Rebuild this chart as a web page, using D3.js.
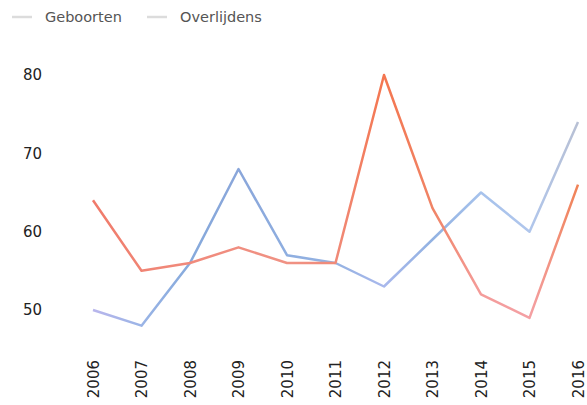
<!DOCTYPE html>
<html>
<head>
<meta charset="utf-8">
<script src="https://cdn.jsdelivr.net/npm/d3@7"></script>
<style>
  body { margin: 0; background: #fff; }
  text { font-family: "DejaVu Sans", "Liberation Sans", Arial, sans-serif; }
</style>
</head>
<body>
<svg id="chart"></svg>
<script>
const years = ['2006', '2007', '2008', '2009', '2010', '2011', '2012', '2013', '2014', '2015', '2016'];
const geboorten = [50, 48, 56, 68, 57, 56, 53, 59, 65, 60, 74];
const overlijdens = [64, 55, 56, 58, 56, 56, 80, 63, 52, 49, 66];
const yTicks = [50, 60, 70, 80];
const seriesNames = ['Geboorten', 'Overlijdens'];

// colour stops along each line (one per year)
const blueStops = ['#b9b6ec', '#9ab4e6', '#86aadc', '#8aa6da', '#8eaee0', '#94b2e2', '#a9b8ec', '#92b2e2', '#a6c2ec', '#b0c6ec', '#b8c0d4'];
const redStops = ['#f07a6a', '#f08474', '#f08a7c', '#f08e80', '#f09284', '#f08a78', '#f47650', '#f08466', '#f49c9a', '#f4a0a4', '#f08256'];

const width = 587, height = 405;
const margin = { top: 75, right: 9, bottom: 95, left: 93 };

const svg = d3.select('#chart')
  .attr('width', width)
  .attr('height', height);

const x = d3.scalePoint()
  .domain(years)
  .range([margin.left, width - margin.right]);

const y = d3.scaleLinear()
  .domain([50, 80])
  .range([310, 75]);

// gradients
const defs = svg.append('defs');
function makeGradient(id, stops) {
  const g = defs.append('linearGradient')
    .attr('id', id)
    .attr('gradientUnits', 'userSpaceOnUse')
    .attr('x1', x(years[0])).attr('x2', x(years[years.length - 1]))
    .attr('y1', 0).attr('y2', 0);
  stops.forEach((c, i) => {
    g.append('stop')
      .attr('offset', i / (stops.length - 1))
      .attr('stop-color', c);
  });
}
makeGradient('gradBlue', blueStops);
makeGradient('gradRed', redStops);

// y axis
const yAxis = svg.append('g')
  .attr('transform', 'translate(42,0)')
  .call(d3.axisLeft(y).tickValues(yTicks).tickSize(0).tickPadding(0));
yAxis.select('.domain').remove();
yAxis.selectAll('text')
  .attr('fill', '#222')
  .style('font-size', '15px');

// x axis
const xAxis = svg.append('g')
  .attr('transform', 'translate(0,359)')
  .call(d3.axisBottom(x).tickSize(0));
xAxis.select('.domain').remove();
xAxis.selectAll('text')
  .attr('fill', '#222')
  .style('font-size', '15px')
  .style('text-anchor', 'end')
  .attr('transform', 'rotate(-90)')
  .attr('x', -1)
  .attr('y', 0)
  .attr('dy', '0.35em');

const line = d3.line()
  .x((d, i) => x(years[i]))
  .y(d => y(d));

svg.append('path')
  .datum(geboorten)
  .attr('fill', 'none')
  .attr('stroke', 'url(#gradBlue)')
  .attr('stroke-width', 2.5)
  .attr('stroke-linejoin', 'round')
  .attr('d', line);

svg.append('path')
  .datum(overlijdens)
  .attr('fill', 'none')
  .attr('stroke', 'url(#gradRed)')
  .attr('stroke-width', 2.5)
  .attr('stroke-linejoin', 'round')
  .attr('d', line);

// legend
const legend = svg.selectAll('.legend')
  .data(seriesNames)
  .enter().append('g')
  .attr('class', 'legend')
  .attr('transform', (d, i) => `translate(${12 + i * 135},17)`);

legend.append('line')
  .attr('x1', 0).attr('x2', 20)
  .attr('y1', 0).attr('y2', 0)
  .attr('stroke', '#dcdcdc')
  .attr('stroke-width', 2.5);

legend.append('text')
  .attr('x', 33)
  .attr('y', 0)
  .attr('dy', '0.35em')
  .attr('fill', '#555')
  .style('font-size', '14.5px')
  .text(d => d);
</script>
</body>
</html>
